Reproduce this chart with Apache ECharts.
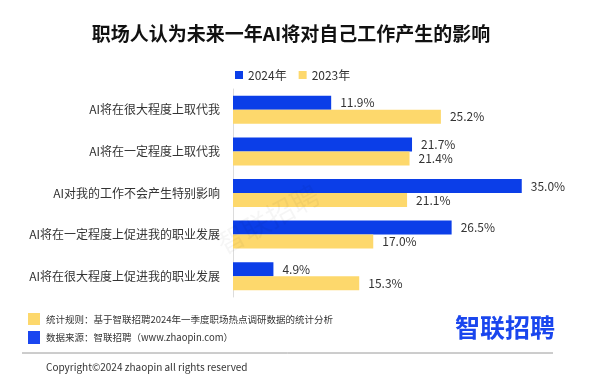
<!DOCTYPE html>
<html><head><meta charset="utf-8">
<script src="https://cdn.jsdelivr.net/npm/echarts@6/dist/echarts.min.js"></script>
<style>html,body{margin:0;padding:0;background:#fff}#c{width:611px;height:383px}</style>
</head><body><div id="c"></div>
<script>
var categories = ['AI将在很大程度上取代我','AI将在一定程度上取代我','AI对我的工作不会产生特别影响','AI将在一定程度上促进我的职业发展','AI将在很大程度上促进我的职业发展'];
var series2024 = [11.9, 21.7, 35.0, 26.5, 4.9];
var series2023 = [25.2, 21.4, 21.1, 17.0, 15.3];
var seriesNames = ['2024年','2023年'];
var titleText = '职场人认为未来一年AI将对自己工作产生的影响';
var note1 = '统计规则：基于智联招聘2024年一季度职场热点调研数据的统计分析';
var note2 = '数据来源：智联招聘（www.zhaopin.com）';
var copyright = 'Copyright©2024 zhaopin all rights reserved';
var logoText = '智联招聘';

var FF = '"Noto Sans CJK SC","Noto Sans",sans-serif';
var chart = echarts.init(document.getElementById('c'));
var labelFmt = function(p){ return p.value.toFixed(1) + '%'; };
chart.setOption({
  animation: false,
  textStyle: {fontFamily: FF},
  title: {text: titleText, left: 286, top: 19, textAlign: 'center',
    textStyle: {fontSize: 19, fontWeight: 'bold', color: '#111', fontFamily: FF}},
  legend: {data: seriesNames, top: 64, left: 230, icon: 'rect', itemWidth: 8, itemHeight: 8, itemGap: 12,
    textStyle: {fontSize: 12, color: '#333', fontFamily: FF}},
  grid: {left: 233, right: 48, top: 89, bottom: 86, containLabel: false},
  xAxis: {type: 'value', min: 0, max: 40, show: false},
  yAxis: {type: 'category', data: categories, inverse: true,
    axisLine: {show: true, lineStyle: {color: '#dcdcdc', width: 1}},
    axisTick: {show: false},
    axisLabel: {fontSize: 12, color: '#333', margin: 13, fontFamily: FF}},
  series: [
    {name: seriesNames[0], type: 'bar', data: series2024, barWidth: 14, barGap: '0%',
     itemStyle: {color: '#0b3ee8'},
     label: {show: true, position: 'right', distance: 9, formatter: labelFmt, fontSize: 12, color: '#333', fontFamily: FF}},
    {name: seriesNames[1], type: 'bar', data: series2023, barWidth: 14, barGap: '0%',
     itemStyle: {color: '#fdd86c'},
     label: {show: true, position: 'right', distance: 9, formatter: labelFmt, fontSize: 12, color: '#333', fontFamily: FF}}
  ],
  graphic: [
    {type: 'text', left: 212, top: 180, rotation: 0.5, z: 100, silent: true,
     style: {text: logoText, fontSize: 28, fill: 'rgba(0,0,0,0.04)', fontFamily: FF}},
    {type: 'rect', shape: {x: 28, y: 313, width: 12, height: 12}, style: {fill: '#fdd86c'}},
    {type: 'text', x: 46, y: 319, style: {text: note1, fontSize: 9.5, fill: '#333', fontFamily: FF, textVerticalAlign: 'middle'}},
    {type: 'rect', shape: {x: 28, y: 331, width: 12, height: 13}, style: {fill: '#1a46f0'}},
    {type: 'text', x: 46, y: 337, style: {text: note2, fontSize: 9.5, fill: '#333', fontFamily: FF, textVerticalAlign: 'middle'}},
    {type: 'line', shape: {x1: 22, y1: 353, x2: 553, y2: 353}, style: {stroke: '#9a9a9a', lineWidth: 1}},
    {type: 'text', x: 46, y: 367, style: {text: copyright, fontSize: 10, fill: '#333', fontFamily: FF, textVerticalAlign: 'middle'}},
    {type: 'text', x: 455, y: 327, style: {text: logoText, fontSize: 25, fontWeight: 'bold', fill: '#1a46ee', fontFamily: FF, textVerticalAlign: 'middle'}}
  ]
});
</script></body></html>
